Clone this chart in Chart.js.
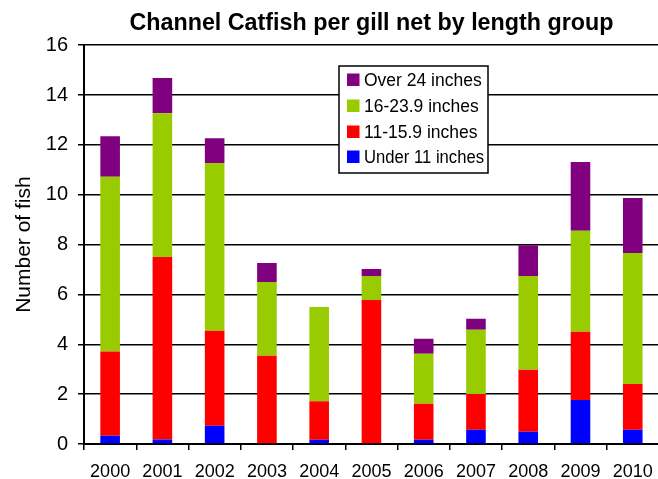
<!DOCTYPE html>
<html><head><meta charset="utf-8">
<script src="https://cdn.jsdelivr.net/npm/chart.js@4/dist/chart.umd.min.js"></script>
<style>
html,body{margin:0;padding:0;overflow:hidden;background:#fff;width:658px;height:479px}
#wrap{position:absolute;left:0;top:0;width:664px;height:479px}
</style>
</head><body><div id="wrap"><canvas id="c" width="664" height="479"></canvas></div>
<script>
const years = ['2000','2001','2002','2003','2004','2005','2006','2007','2008','2009','2010'];
const under11 = [0.33,0.18,0.73,0,0.17,0,0.17,0.57,0.49,1.77,0.57];
const from11to15 = [3.38,7.32,3.81,3.54,1.54,5.78,1.44,1.44,2.49,2.73,1.84];
const from16to23 = [7.01,5.77,6.73,2.96,3.79,0.96,2.01,2.57,3.76,4.05,5.25];
const over24 = [1.63,1.41,1.0,0.76,0,0.28,0.6,0.44,1.23,2.76,2.21];
const seriesNames = ['Under 11 inches','11-15.9 inches','16-23.9 inches','Over 24 inches'];
const seriesColors = ['#0000FF','#FF0000','#99CC00','#800080'];
const yTicks = [0,2,4,6,8,10,12,14,16];

const FONT = '"Liberation Sans", Arial, sans-serif';

const legendPlugin = {
  id: 'boxLegend',
  afterDatasetsDraw(chart) {
    const ctx = chart.ctx;
    ctx.save();
    const x0 = 339, y0 = 66, w = 149, h = 107;
    ctx.fillStyle = '#fff';
    ctx.fillRect(x0, y0, w, h);
    ctx.strokeStyle = '#000';
    ctx.lineWidth = 1.5;
    ctx.strokeRect(x0, y0, w, h);
    const ds = chart.data.datasets.slice().reverse();
    const rows = [80, 106, 132, 157];
    ctx.font = '17.5px ' + FONT;
    ctx.textBaseline = 'middle';
    ds.forEach((d, i) => {
      ctx.fillStyle = d.backgroundColor;
      ctx.fillRect(347, rows[i] - 6.5, 12.5, 12.5);
      ctx.fillStyle = '#000';
      ctx.fillText(d.label, 364, rows[i] + 1, 120);
    });
    ctx.restore();
  }
};

const dataArrays = [under11, from11to15, from16to23, over24];
new Chart(document.getElementById('c'), {
  type: 'bar',
  data: {
    labels: years,
    datasets: dataArrays.map((arr, i) => ({
      label: seriesNames[i],
      data: arr,
      backgroundColor: seriesColors[i],
      borderWidth: 0,
      barPercentage: 0.375,
      categoryPercentage: 1.0
    }))
  },
  options: {
    responsive: false,
    animation: false,
    devicePixelRatio: 1,
    layout: { padding: { left: 0, right: 2, top: 0, bottom: 0 } },
    plugins: {
      legend: { display: false },
      tooltip: { enabled: false },
      title: {
        display: true,
        text: 'Channel Catfish per gill net by length group',
        fullSize: false,
        color: '#000',
        font: { family: FONT, size: 23.3, weight: 'bold' },
        padding: { top: 10, bottom: 7.2 }
      }
    },
    scales: {
      x: {
        stacked: true,
        offset: true,
        grid: { drawOnChartArea: false, drawTicks: true, tickLength: 6, color: '#000', lineWidth: 1.5, offset: true },
        border: { color: '#000', width: 2 },
        ticks: { color: '#000', font: { family: FONT, size: 18 }, padding: 11, maxRotation: 0, autoSkip: false },
        afterFit(s) { s.height = 35; }
      },
      y: {
        stacked: true,
        min: 0, max: 16,
        afterBuildTicks(s) { s.ticks = yTicks.map(v => ({ value: v })); },
        grid: { color: '#000', lineWidth: 1.5, tickLength: 6 },
        border: { color: '#000', width: 2 },
        ticks: { color: '#000', font: { family: FONT, size: 20 }, padding: 10 },
        title: { display: true, text: 'Number of fish', color: '#000', font: { family: FONT, size: 21 }, padding: { top: 12, bottom: 0 } },
        afterFit(s) { s.width = 84; }
      }
    }
  },
  plugins: [legendPlugin]
});
</script>
</body></html>
